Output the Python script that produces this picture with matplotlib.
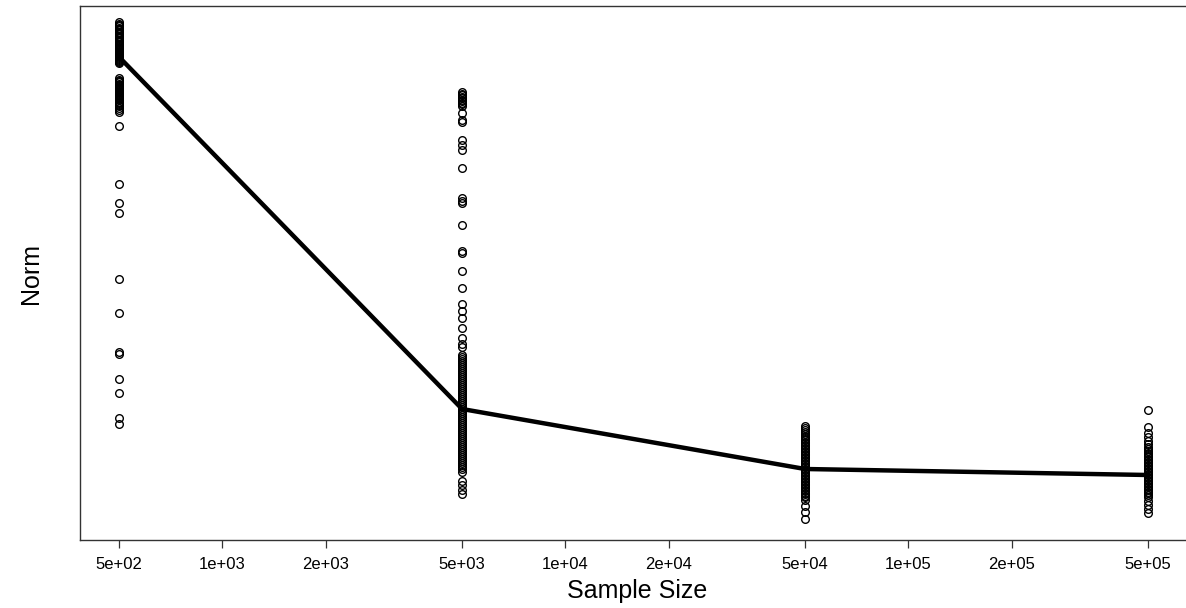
import matplotlib
matplotlib.use("Agg")
import matplotlib.pyplot as plt

plt.rcParams["font.family"] = ["Liberation Sans", "DejaVu Sans"]

# sample sizes (log axis)
sizes = [5e2, 5e3, 5e4, 5e5]
tick_vals = [5e2, 1e3, 2e3, 5e3, 1e4, 2e4, 5e4, 1e5, 2e5, 5e5]
tick_labels = ["5e+02", "1e+03", "2e+03", "5e+03", "1e+04",
               "2e+04", "5e+04", "1e+05", "2e+05", "5e+05"]

# norm values per replicate (arbitrary units)
norm_500 = [1.046, 1.043, 1.040, 1.038, 1.035, 1.032, 1.030, 1.027, 1.024, 1.022,
            1.019, 1.016, 1.014, 1.011, 1.008, 1.006, 1.003, 1.000, 0.998, 0.996,
            0.994, 0.992, 0.990, 0.988, 0.986, 0.984, 0.982, 0.980, 0.978, 0.976,
            0.974, 0.972, 0.970, 0.968, 0.966, 0.964,
            0.934, 0.931, 0.928, 0.926, 0.923, 0.920, 0.918, 0.916, 0.914, 0.912,
            0.910, 0.908, 0.906, 0.904, 0.902, 0.900, 0.898, 0.896, 0.894, 0.892,
            0.890, 0.887, 0.884, 0.881, 0.878, 0.874, 0.870, 0.866,
            0.838, 0.722, 0.684, 0.664, 0.532, 0.464, 0.386, 0.382, 0.332, 0.304,
            0.254, 0.242]
norm_5k = [0.906, 0.903, 0.900, 0.897, 0.894, 0.891, 0.888, 0.885, 0.882, 0.878,
           0.864, 0.850, 0.846, 0.810, 0.800, 0.790, 0.754, 0.694, 0.688, 0.684,
           0.640, 0.588, 0.584, 0.548, 0.514, 0.482, 0.468, 0.454, 0.434, 0.414,
           0.402, 0.396, 0.380, 0.376, 0.372, 0.368, 0.364, 0.360, 0.356, 0.352,
           0.348, 0.344, 0.340, 0.336, 0.332, 0.328, 0.324, 0.320, 0.316, 0.312,
           0.308, 0.304, 0.300, 0.296, 0.292, 0.288, 0.284, 0.280, 0.276, 0.272,
           0.268, 0.264, 0.260, 0.256, 0.252, 0.248, 0.244, 0.240, 0.236, 0.232,
           0.228, 0.224, 0.220, 0.216, 0.212, 0.208, 0.204, 0.200, 0.196, 0.192,
           0.188, 0.184, 0.180, 0.176, 0.172, 0.168, 0.164, 0.160, 0.156, 0.152,
           0.146, 0.128, 0.120, 0.110, 0.102]
norm_50k = [0.238, 0.234, 0.230, 0.226, 0.222, 0.219, 0.216, 0.213, 0.210, 0.207,
            0.204, 0.201, 0.198, 0.195, 0.192, 0.189, 0.186, 0.183, 0.180, 0.177,
            0.174, 0.171, 0.168, 0.165, 0.162, 0.159, 0.156, 0.153, 0.150, 0.147,
            0.144, 0.141, 0.138, 0.135, 0.132, 0.129, 0.126, 0.123, 0.120, 0.117,
            0.114, 0.111, 0.108, 0.105, 0.102, 0.099, 0.096, 0.090, 0.078, 0.066,
            0.052]
norm_500k = [0.270, 0.236, 0.224, 0.216, 0.208, 0.202, 0.196, 0.192, 0.188, 0.185,
             0.182, 0.179, 0.176, 0.173, 0.170, 0.167, 0.164, 0.161, 0.158, 0.155,
             0.152, 0.149, 0.146, 0.143, 0.140, 0.137, 0.134, 0.131, 0.128, 0.125,
             0.122, 0.119, 0.116, 0.113, 0.110, 0.107, 0.104, 0.101, 0.096, 0.088,
             0.080, 0.072, 0.064]
# summary line
norm_center = [0.976, 0.272, 0.152, 0.140]

fig = plt.figure(figsize=(11.86, 6.08), dpi=100)
ax = fig.add_axes([80 / 1186, 68 / 608, 1114 / 1186, 534 / 608])

for s, vals in zip(sizes, [norm_500, norm_5k, norm_50k, norm_500k]):
    ax.plot([s] * len(vals), vals, "o", mfc="none", mec="black", ms=5.5,
            mew=1.0, ls="none")
ax.plot(sizes, norm_center, "-", color="black", lw=3.2)

ax.set_xscale("log")
ax.set_xlim(10 ** 2.585, 10 ** 5.833)
ax.set_ylim(0.010, 1.078)
ax.set_xticks(tick_vals)
ax.set_xticklabels(tick_labels, fontsize=12)
ax.xaxis.set_minor_locator(matplotlib.ticker.NullLocator())
ax.set_yticks([])
ax.tick_params(axis="x", direction="out", length=6, width=0.9, pad=6,
               color="#333333")
for sp in ax.spines.values():
    sp.set_linewidth(1.0)
    sp.set_color("#333333")

ax.set_xlabel("Sample Size", fontsize=18, labelpad=5)
ax.set_ylabel("Norm", fontsize=18, labelpad=27)

fig.savefig("out.png", dpi=100, facecolor="white")
